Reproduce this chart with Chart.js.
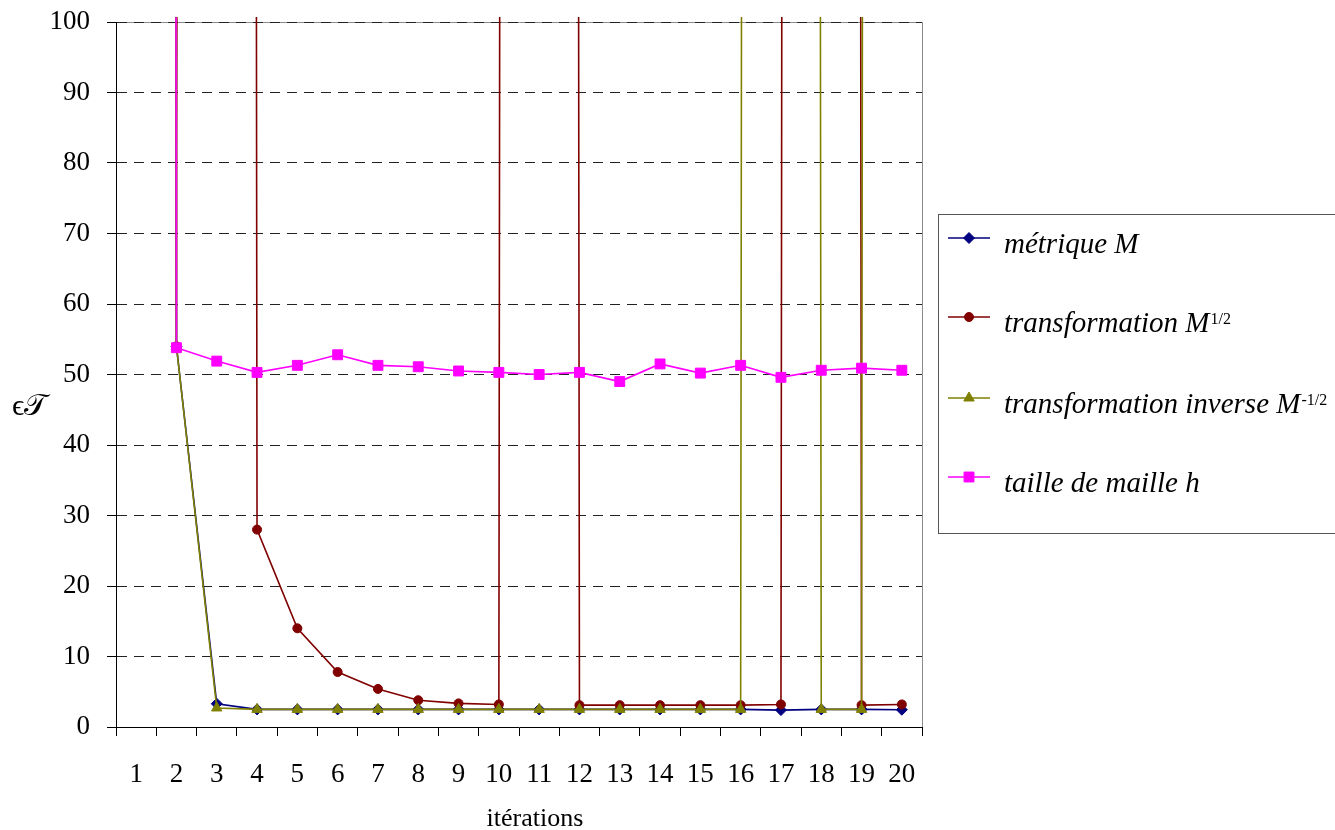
<!DOCTYPE html>
<html><head><meta charset="utf-8">
<script src="https://cdn.jsdelivr.net/npm/chart.js@4"></script>
<style>html,body{margin:0;padding:0;background:#fff}#wrap{width:1335px;height:830px;position:relative}</style>
</head><body><div id="wrap"><canvas id="c" width="1335" height="830"></canvas></div>
<script>
// ---- data ----
const categories = ['1','2','3','4','5','6','7','8','9','10','11','12','13','14','15','16','17','18','19','20'];
const OFF = 100000; // values far above the visible range (curve leaves the chart)
const metriqueM      = [OFF, 54, 3.3, 2.5, 2.5, 2.5, 2.5, 2.5, 2.5, 2.5, 2.5, 2.5, 2.5, 2.5, 2.5, 2.5, 2.4, 2.5, 2.5, 2.45];
const transfoM12     = [OFF, 54, OFF, 28, 14, 7.8, 5.4, 3.8, 3.35, 3.2, OFF, 3.1, 3.1, 3.1, 3.1, 3.1, 3.2, OFF, 3.1, 3.2];
const transfoInvM12  = [OFF, 54, 2.7, 2.5, 2.5, 2.5, 2.5, 2.5, 2.5, 2.5, 2.5, 2.5, 2.5, 2.5, 2.5, 2.5, OFF, 2.5, 2.5, OFF];
const tailleMailleH  = [OFF, 53.8, 51.9, 50.3, 51.3, 52.8, 51.3, 51.1, 50.5, 50.3, 50.0, 50.3, 49.0, 51.5, 50.2, 51.3, 49.6, 50.6, 50.9, 50.6];
const yMin = 0, yMax = 100, yStep = 10;
const seriesNames = ['métrique M', 'transformation M', 'transformation inverse M', 'taille de maille h'];
const seriesSups  = ['', '1/2', '-1/2', ''];
const seriesColors = ['#000080', '#800000', '#808000', '#FF00FF'];
const xTitle = 'itérations';
const yTitle = 'ϵ𝒯';

const FONT = "'Liberation Serif', 'Times New Roman', serif";

const mk = (i, data, style, r, order) => ({
  label: seriesNames[i] + seriesSups[i],
  data: data,
  borderColor: seriesColors[i],
  backgroundColor: seriesColors[i],
  pointBackgroundColor: seriesColors[i],
  pointBorderColor: seriesColors[i],
  borderWidth: 1.6,
  pointStyle: style,
  pointRadius: r,
  pointHoverRadius: r,
  pointBorderWidth: 1,
  fill: false,
  tension: 0,
  order: order,
  clip: {left: false, right: false, top: 5, bottom: 0}
});

const bgPlugin = {
  id: 'bgframe',
  beforeDraw(chart) {
    const {ctx, chartArea: a} = chart;
    ctx.save();
    ctx.fillStyle = '#fff';
    ctx.fillRect(0, 0, chart.width, chart.height);
    ctx.strokeStyle = '#8c8c8c';
    ctx.lineWidth = 1;
    ctx.beginPath();
    ctx.moveTo(a.left, a.top + 0.5);
    ctx.lineTo(a.right + 0.5, a.top + 0.5);
    ctx.lineTo(a.right + 0.5, a.bottom);
    ctx.stroke();
    ctx.restore();
  }
};

function marker(ctx, ds, x, y) {
  ctx.fillStyle = ds.pointBackgroundColor;
  ctx.strokeStyle = ds.pointBorderColor;
  ctx.lineWidth = 1;
  if (Chart.helpers && Chart.helpers.drawPoint) {
    Chart.helpers.drawPoint(ctx, {pointStyle: ds.pointStyle, rotation: 0, radius: ds.pointRadius, borderWidth: 1}, x, y);
  }
}

const textPlugin = {
  id: 'texts',
  afterDraw(chart) {
    const {ctx} = chart;
    ctx.save();
    // legend box
    ctx.strokeStyle = '#555';
    ctx.lineWidth = 1;
    ctx.strokeRect(938.5, 214.5, 420, 319);
    const rows = [238, 317, 398, 477];
    chart.data.datasets.forEach((ds, i) => {
      const y = rows[i];
      ctx.strokeStyle = ds.borderColor;
      ctx.lineWidth = 1.6;
      ctx.beginPath();
      ctx.moveTo(948, y); ctx.lineTo(990, y);
      ctx.stroke();
      marker(ctx, ds, 969, y);
      ctx.fillStyle = '#000';
      ctx.textBaseline = 'alphabetic';
      ctx.textAlign = 'left';
      ctx.font = 'italic 29px ' + FONT;
      ctx.fillText(seriesNames[i], 1004, y + 15);
      if (seriesSups[i]) {
        const w = ctx.measureText(seriesNames[i]).width;
        ctx.font = '16px ' + FONT;
        ctx.fillText(seriesSups[i], 1004 + w + 1, y + 7);
      }
    });
    // axis titles
    ctx.fillStyle = '#000';
    ctx.font = '26px ' + FONT;
    ctx.textAlign = 'center';
    ctx.textBaseline = 'alphabetic';
    ctx.fillText(xTitle, 535, 826);
    ctx.textAlign = 'left';
    ctx.font = '30px ' + FONT;
    ctx.fillText(yTitle, 12, 415);
    ctx.restore();
  }
};

new Chart(document.getElementById('c'), {
  type: 'line',
  data: {
    labels: categories,
    datasets: [
      mk(0, metriqueM, 'rectRot', 5.5, 4),
      mk(1, transfoM12, 'circle', 4.5, 3),
      mk(2, transfoInvM12, 'triangle', 6, 2),
      mk(3, tailleMailleH, 'rect', 7, 1)
    ]
  },
  options: {
    responsive: false,
    animation: false,
    events: [],
    layout: {padding: {left: 0, right: 413, top: 22, bottom: 0}},
    plugins: {legend: {display: false}, tooltip: {enabled: false}, title: {display: false}},
    scales: {
      x: {
        type: 'category',
        offset: true,
        grid: {display: true, offset: true, drawOnChartArea: false, drawTicks: true, tickLength: 9, tickColor: '#000', tickWidth: 1},
        border: {display: true, color: '#000', width: 1},
        ticks: {autoSkip: false, maxRotation: 0, minRotation: 0, padding: 23, color: '#000', font: {family: FONT, size: 27}},
        afterFit(s) { s.height = 103; s.paddingLeft = 0; s.paddingRight = 0; }
      },
      y: {
        min: yMin, max: yMax,
        grid: {display: true, color: '#222', lineWidth: 1, drawTicks: true, tickLength: 9, tickColor: '#000', tickWidth: 1},
        border: {display: true, color: '#000', width: 1, dash: [10, 7]},
        ticks: {stepSize: yStep, padding: 17, color: '#000', font: {family: FONT, size: 27}},
        afterFit(s) { s.width = 116; s.paddingTop = 0; s.paddingBottom = 0; }
      }
    }
  },
  plugins: [bgPlugin, textPlugin]
});
</script>
</body></html>
